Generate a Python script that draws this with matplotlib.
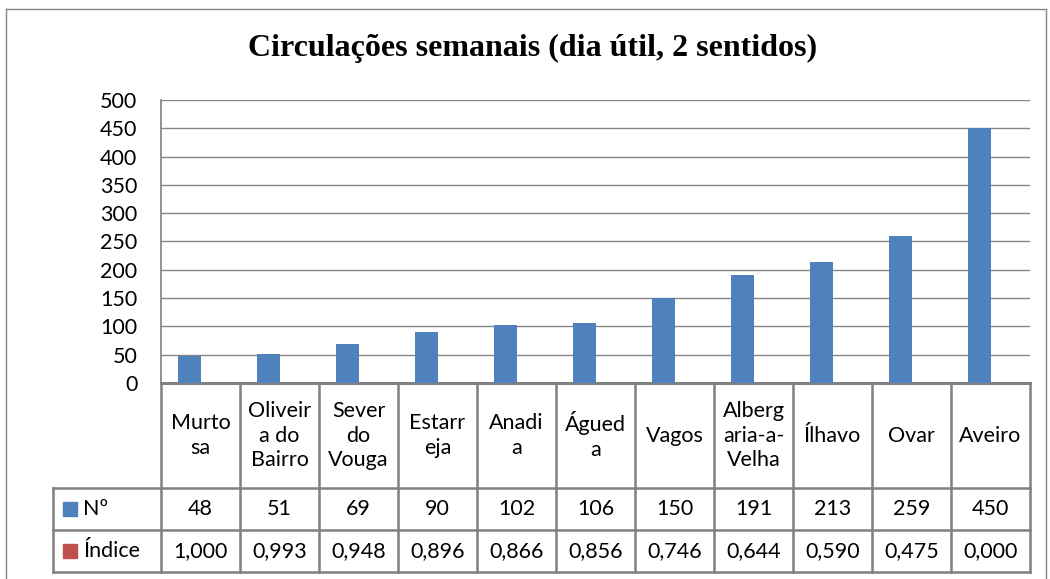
import numpy as np
import matplotlib
matplotlib.use("Agg")
import matplotlib.pyplot as plt
from matplotlib.patches import Rectangle
from matplotlib.lines import Line2D

# data
categories = ["Murto\nsa", "Oliveir\na do\nBairro", "Sever\ndo\nVouga", "Estarr\neja",
              "Anadi\na", "Águed\na", "Vagos", "Alberg\naria-a-\nVelha", "Ílhavo",
              "Ovar", "Aveiro"]
num_circ = [48, 51, 69, 90, 102, 106, 150, 191, 213, 259, 450]
indice = [1.000, 0.993, 0.948, 0.896, 0.866, 0.856, 0.746, 0.644, 0.590, 0.475, 0.000]
series_names = ["Nº", "Índice"]
colors = ["#4F81BD", "#C0504D"]
yticks = list(range(0, 501, 50))

FONT = "Lato"
FS = 15.5
GRID = "#868686"
LINE = "#808080"

fig = plt.figure(figsize=(10.5, 5.79), dpi=100)
ax = fig.add_axes([161 / 1050, 1 - 383 / 579, (1030 - 161) / 1050, (383 - 100) / 579])

x = np.arange(len(categories))
ax.bar(x - 0.14, num_circ, width=0.30, color=colors[0], zorder=3)
# indice bars are below one pixel tall, the axis line hides them as in Excel
ax.bar(x + 0.16, indice, width=0.30, color=colors[1], zorder=0.1,
       linewidth=0, snap=True)

ax.set_xlim(-0.5, len(categories) - 0.5)
ax.set_ylim(0, 500)
ax.set_yticks(yticks)
ax.set_yticklabels([str(v) for v in yticks], fontsize=FS, family=FONT)
ax.tick_params(axis="y", length=0, pad=17)
ax.set_xticks([])
ax.yaxis.grid(True, color=GRID, linewidth=1)
ax.set_axisbelow(True)
for s in ["top", "right", "bottom"]:
    ax.spines[s].set_visible(False)
ax.spines["left"].set_color(LINE)
ax.spines["left"].set_linewidth(1.2)

# data table under the axis
tr = ax.get_xaxis_transform()
ph = 283.0
y_cat = -105 / ph
y_r1 = -147 / ph
y_r2 = -189 / ph
x_leg = -0.5 - 108 / 79

def seg(x0, x1, y0, y1, lw=1.8):
    ax.add_line(Line2D([x0, x1], [y0, y1], transform=tr, color=LINE,
                       linewidth=lw, clip_on=False, zorder=2))

seg(-0.5, len(categories) - 0.5, 0, 0, lw=2.2)
for b in np.arange(-0.5, len(categories), 1.0):
    seg(b, b, 0, y_r2)
for yy in [y_cat, y_r1, y_r2]:
    seg(x_leg, len(categories) - 0.5, yy, yy)
seg(x_leg, x_leg, y_cat, y_r2)

for i, cat in enumerate(categories):
    ax.text(i, y_cat / 2, cat, transform=tr, ha="center", va="center",
            fontsize=FS, family=FONT, linespacing=1.3)
    ax.text(i, (y_cat + y_r1) / 2, str(num_circ[i]), transform=tr,
            ha="center", va="center", fontsize=FS, family=FONT)
    ax.text(i, (y_r1 + y_r2) / 2, f"{indice[i]:.3f}".replace(".", ","),
            transform=tr, ha="center", va="center", fontsize=FS, family=FONT)

sq_x0 = -0.5 - (161 - 63) / 79
sq_w = 14 / 79
sq_h = 14 / ph
for k, (name, yy) in enumerate(zip(series_names, [(y_cat + y_r1) / 2, (y_r1 + y_r2) / 2])):
    ax.add_patch(Rectangle((sq_x0, yy - sq_h / 2), sq_w, sq_h, transform=tr,
                           color=colors[k], clip_on=False))
    ax.text(sq_x0 + sq_w + 6 / 79, yy, name, transform=tr, ha="left",
            va="center", fontsize=FS, family=FONT)

# title
fig.text(533 / 1050, 1 - 48 / 579, "Circulações semanais (dia útil, 2 sentidos)",
         ha="center", va="center", fontsize=23, fontweight="bold",
         family="Liberation Serif")

# chart border
bx0, bx1, by0 = 6 / 1050, 1046 / 1050, 1 - 9 / 579
for xs, ys in [([bx0, bx0], [0, by0]), ([bx0, bx1], [by0, by0]), ([bx1, bx1], [by0, 0])]:
    fig.add_artist(Line2D(xs, ys, transform=fig.transFigure, color=GRID, linewidth=1))

fig.savefig("out.png", dpi=100)
